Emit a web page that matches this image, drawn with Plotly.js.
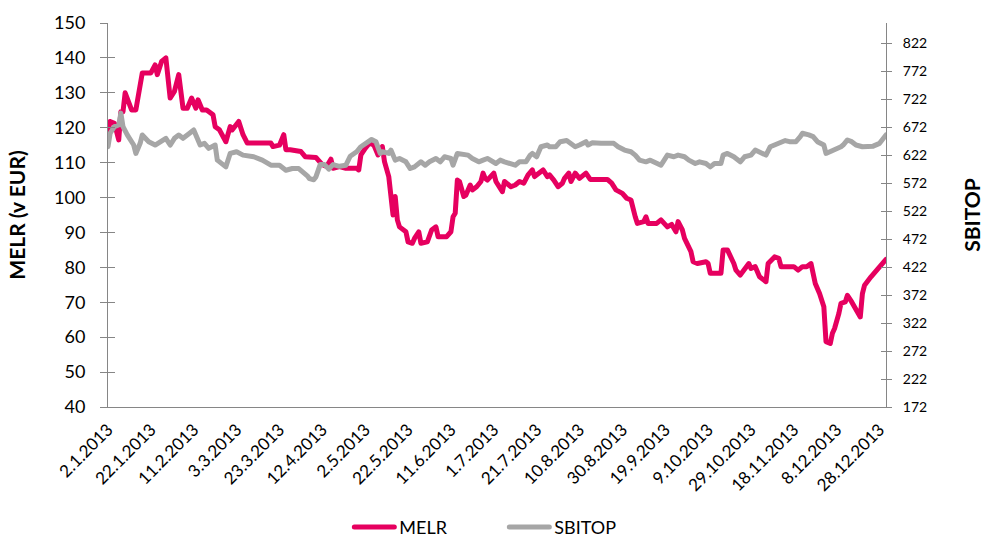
<!DOCTYPE html>
<html>
<head>
<meta charset="utf-8">
<script src="https://cdn.plot.ly/plotly-3.0.1.min.js"></script>
<style>html,body{margin:0;padding:0;background:#fff;}#chart{width:984px;height:538px;}
.js-line{stroke-linejoin:round !important;stroke-linecap:round !important;}</style>
</head>
<body>
<div id="chart"></div>
<script>
const melrDates = ["2013-01-02","2013-01-03","2013-01-05","2013-01-06","2013-01-07","2013-01-08","2013-01-09","2013-01-10","2013-01-12","2013-01-13","2013-01-15","2013-01-17","2013-01-18","2013-01-22","2013-01-24","2013-01-25","2013-01-27","2013-01-29","2013-01-31",
"2013-02-02","2013-02-04","2013-02-06","2013-02-08","2013-02-10","2013-02-12","2013-02-13","2013-02-15","2013-02-17","2013-02-20","2013-02-21","2013-02-23","2013-02-26","2013-02-28",
"2013-03-01","2013-03-04","2013-03-06","2013-03-08","2013-03-12","2013-03-19","2013-03-20","2013-03-23","2013-03-25","2013-03-26","2013-03-28",
"2013-04-02","2013-04-04","2013-04-09","2013-04-10","2013-04-12","2013-04-14","2013-04-16","2013-04-17","2013-04-20","2013-04-23","2013-04-28","2013-04-29","2013-04-30",
"2013-05-02","2013-05-04","2013-05-06","2013-05-08","2013-05-10","2013-05-11","2013-05-13","2013-05-14","2013-05-15","2013-05-16","2013-05-17","2013-05-18","2013-05-21","2013-05-22","2013-05-24","2013-05-25","2013-05-27","2013-05-28","2013-05-31",
"2013-06-02","2013-06-04","2013-06-05","2013-06-09","2013-06-11","2013-06-12","2013-06-13","2013-06-14","2013-06-15","2013-06-17","2013-06-18","2013-06-20","2013-06-21","2013-06-23","2013-06-25","2013-06-26","2013-06-27","2013-06-28",
"2013-07-01","2013-07-02","2013-07-05","2013-07-06","2013-07-09","2013-07-11","2013-07-13","2013-07-15","2013-07-17","2013-07-19","2013-07-20","2013-07-22","2013-07-24","2013-07-26","2013-07-27","2013-07-29","2013-07-31",
"2013-08-02","2013-08-03","2013-08-05","2013-08-06","2013-08-08","2013-08-10","2013-08-13","2013-08-15","2013-08-23","2013-08-25","2013-08-27","2013-08-30",
"2013-09-01","2013-09-03","2013-09-05","2013-09-06","2013-09-09","2013-09-10","2013-09-11","2013-09-15","2013-09-17","2013-09-20","2013-09-22","2013-09-24","2013-09-25","2013-09-27","2013-09-28","2013-09-30",
"2013-10-01","2013-10-02","2013-10-04","2013-10-08","2013-10-09","2013-10-10","2013-10-15","2013-10-16","2013-10-18","2013-10-21","2013-10-22","2013-10-24","2013-10-26","2013-10-28","2013-10-29","2013-10-31",
"2013-11-02","2013-11-05","2013-11-06","2013-11-08","2013-11-09","2013-11-11","2013-11-12","2013-11-18","2013-11-20","2013-11-22","2013-11-24","2013-11-26","2013-11-27","2013-11-28","2013-11-30",
"2013-12-02","2013-12-03","2013-12-05","2013-12-06","2013-12-07","2013-12-09","2013-12-10","2013-12-12","2013-12-13","2013-12-15","2013-12-17","2013-12-19","2013-12-20","2013-12-21","2013-12-24","2013-12-27","2013-12-30","2013-12-31"];
const melrValues = [119,121.8,121.3,118,116.5,124.6,124.6,130,127,125.1,125.1,133.7,135.7,135.7,138,135.2,139,140,128.5,
130.4,135.2,125.6,125.6,128.5,125.6,128,125.1,125.1,123.7,120.3,119.4,116,120.3,
119.4,121.8,118,115.6,115.6,115.6,114.6,115,118,113.7,113.7,
113.2,111.7,111.5,110.8,109.4,108.9,111,108.4,108.9,108.4,108.4,107.9,112.2,
114.1,115.6,115.1,112.2,114.6,110.3,106,100.3,95,100.3,93.6,91.6,90.2,87.3,86.9,88.3,90.2,86.9,87.3,
90.7,91.6,88.8,88.8,90.2,94.5,95.5,105,104.6,100.3,100.7,103.6,102.2,103.1,104.6,107,105.5,105,
107,104.6,101.7,104.6,103.1,103.6,104.6,104.1,106.5,107.9,106,107,107.9,106,106.5,105,103.1,
104.1,105.5,107,104.6,107,105.5,107,105.2,105.2,104.1,102.2,101.2,
99.8,99.3,94.5,92.6,93.1,94.5,92.6,92.6,93.6,91.6,92.3,90.2,93.1,90.7,88.3,85.9,
84.5,81.6,81.1,81.6,81.1,78.3,78.3,85,85,81.1,79.2,77.8,79.2,81.1,79.7,80.2,
77.3,75.9,81.1,82.6,83,82.6,80.2,80.2,79.2,80.2,80.2,81.1,78.3,75.4,72.5,
68.7,58.7,58.2,61.1,62.5,66.8,69.7,70.1,72,70.1,68.2,65.8,72.5,74.9,77.3,79.7,81.6,82.3];

const sbitopDates = ["2013-01-02","2013-01-03","2013-01-05","2013-01-07","2013-01-08","2013-01-09","2013-01-11","2013-01-14","2013-01-15","2013-01-17","2013-01-18","2013-01-21","2013-01-24","2013-01-27","2013-01-29","2013-01-31",
"2013-02-02","2013-02-04","2013-02-06","2013-02-08","2013-02-11","2013-02-14","2013-02-16","2013-02-18","2013-02-21","2013-02-22","2013-02-25","2013-02-26","2013-02-28",
"2013-03-03","2013-03-06","2013-03-11","2013-03-15","2013-03-19","2013-03-23","2013-03-26","2013-03-29",
"2013-04-01","2013-04-05","2013-04-06","2013-04-08","2013-04-09","2013-04-11","2013-04-13","2013-04-15","2013-04-17","2013-04-20","2013-04-23","2013-04-25","2013-04-28","2013-04-30",
"2013-05-03","2013-05-05","2013-05-07","2013-05-09","2013-05-10","2013-05-13","2013-05-14","2013-05-16","2013-05-18","2013-05-21","2013-05-23","2013-05-25","2013-05-28","2013-05-30",
"2013-06-01","2013-06-04","2013-06-06","2013-06-08","2013-06-11","2013-06-12","2013-06-14","2013-06-17","2013-06-19","2013-06-21","2013-06-24","2013-06-26","2013-06-28",
"2013-07-02","2013-07-04","2013-07-06","2013-07-09","2013-07-11","2013-07-13","2013-07-16","2013-07-18","2013-07-19","2013-07-21","2013-07-23","2013-07-26","2013-07-27","2013-07-30",
"2013-08-01","2013-08-04","2013-08-06","2013-08-08","2013-08-10","2013-08-13","2013-08-14","2013-08-16","2013-08-20","2013-08-23","2013-08-26","2013-08-28","2013-08-31",
"2013-09-03","2013-09-05","2013-09-07","2013-09-10","2013-09-12","2013-09-14","2013-09-17","2013-09-18","2013-09-20","2013-09-23","2013-09-25","2013-09-28","2013-09-30",
"2013-10-03","2013-10-05","2013-10-08","2013-10-10","2013-10-12","2013-10-15","2013-10-16","2013-10-18","2013-10-21","2013-10-24","2013-10-26","2013-10-29","2013-10-31",
"2013-11-02","2013-11-05","2013-11-07","2013-11-09","2013-11-12","2013-11-14","2013-11-16","2013-11-19","2013-11-21","2013-11-22","2013-11-25","2013-11-27","2013-11-29",
"2013-12-02","2013-12-03","2013-12-05","2013-12-07","2013-12-10","2013-12-11","2013-12-13","2013-12-15","2013-12-17","2013-12-20","2013-12-22","2013-12-25","2013-12-28","2013-12-31"];
const sbitopValues = [637,661,673,676,697,673,658,640,625,643,658,646,640,646,652,640,
652,658,652,658,667,640,643,634,640,613,604,601,625,
628,622,619,613,604,604,595,598,
598,585,580,578,583,605,605,597,605,602,604,620,628,637,
646,650,646,625,628,625,631,613,616,610,598,601,610,604,
610,616,610,619,616,604,625,622,622,616,610,613,616,
607,613,610,607,604,610,610,622,625,619,637,640,637,637,
646,648,643,637,640,646,640,644,643,643,643,637,631,
628,622,613,610,613,610,604,610,622,619,622,619,613,
607,610,607,601,607,607,622,625,619,610,619,622,631,
628,622,637,640,646,648,646,646,655,661,658,655,646,
640,625,628,631,637,640,649,646,640,637,638,638,643,658];

const tickDates = ["2013-01-02","2013-01-22","2013-02-11","2013-03-03","2013-03-23","2013-04-12","2013-05-02","2013-05-22","2013-06-11","2013-07-01","2013-07-21","2013-08-10","2013-08-30","2013-09-19","2013-10-09","2013-10-29","2013-11-18","2013-12-08","2013-12-28"];
const tickLabels = ["2.1.2013","22.1.2013","11.2.2013","3.3.2013","23.3.2013","12.4.2013","2.5.2013","22.5.2013","11.6.2013","1.7.2013","21.7.2013","10.8.2013","30.8.2013","19.9.2013","9.10.2013","29.10.2013","18.11.2013","8.12.2013","28.12.2013"];
const leftTicks = [40,50,60,70,80,90,100,110,120,130,140,150];
const rightTicks = [172,222,272,322,372,422,472,522,572,622,672,722,772,822];

const axisGray = '#868686';
const FONT = 'Lato, "Open Sans", sans-serif';

const traces = [
  {x: melrDates, y: melrValues, name: 'MELR', type: 'scatter', mode: 'lines',
   line: {color: '#E6005F', width: 5}, yaxis: 'y', hoverinfo: 'skip'},
  {x: sbitopDates, y: sbitopValues, name: 'SBITOP', type: 'scatter', mode: 'lines',
   line: {color: '#A6A6A6', width: 5}, yaxis: 'y2', hoverinfo: 'skip'},
  {x: [], y: [], yaxis: 'y3', showlegend: false, hoverinfo: 'skip', type: 'scatter'},
  {x: [], y: [], yaxis: 'y4', showlegend: false, hoverinfo: 'skip', type: 'scatter'}
];

const layout = {
  width: 984, height: 538,
  margin: {l: 108, r: 98, t: 23, b: 131},
  paper_bgcolor: '#fff', plot_bgcolor: '#fff',
  font: {family: FONT, color: '#000', size: 18},
  showlegend: true,
  legend: {orientation: 'h', xref: 'container', yref: 'container', x: 0.355, y: 0.02,
           xanchor: 'left', yanchor: 'middle', font: {size: 18, family: FONT},
           itemwidth: 40, entrywidth: 100, traceorder: 'normal'},
  xaxis: {type: 'date', range: ['2013-01-02', '2013-12-31'], tickmode: 'array',
          tickvals: tickDates, ticktext: tickLabels, tickangle: -45,
          showgrid: false, zeroline: false, showline: true, linecolor: axisGray, linewidth: 1,
          ticks: '', tickfont: {size: 17, family: FONT}, ticklabelstandoff: 5},
  yaxis: {range: [40, 150], tickmode: 'array', tickvals: leftTicks,
          showgrid: false, zeroline: false, showline: true, linecolor: axisGray, linewidth: 1,
          ticks: 'outside', ticklen: 7, tickcolor: axisGray, tickfont: {size: 18, family: FONT},
          ticklabelstandoff: 11,
          title: {text: 'MELR (v EUR)', font: {size: 21, family: FONT, weight: 'bold'}, standoff: 22}},
  yaxis2: {range: [172, 858], tickmode: 'array', tickvals: rightTicks, overlaying: 'y', side: 'right',
           showgrid: false, zeroline: false, showline: true, linecolor: axisGray, linewidth: 1,
           ticks: 'outside', ticklen: 5, tickcolor: axisGray, tickfont: {size: 14, family: FONT},
           ticklabelstandoff: 8,
           title: {text: 'SBITOP', font: {size: 21, family: FONT, weight: 'bold'}, standoff: 42}},
  yaxis3: {range: [40, 150], tickmode: 'array', tickvals: leftTicks, overlaying: 'y', side: 'left',
           showgrid: false, zeroline: false, showline: false, showticklabels: false,
           ticks: 'inside', ticklen: 7, tickcolor: axisGray},
  yaxis4: {range: [172, 858], tickmode: 'array', tickvals: rightTicks, overlaying: 'y', side: 'right',
           showgrid: false, zeroline: false, showline: false, showticklabels: false,
           ticks: 'inside', ticklen: 5, tickcolor: axisGray}
};

Plotly.newPlot('chart', traces, layout, {staticPlot: true, displayModeBar: false});
</script>
</body>
</html>
